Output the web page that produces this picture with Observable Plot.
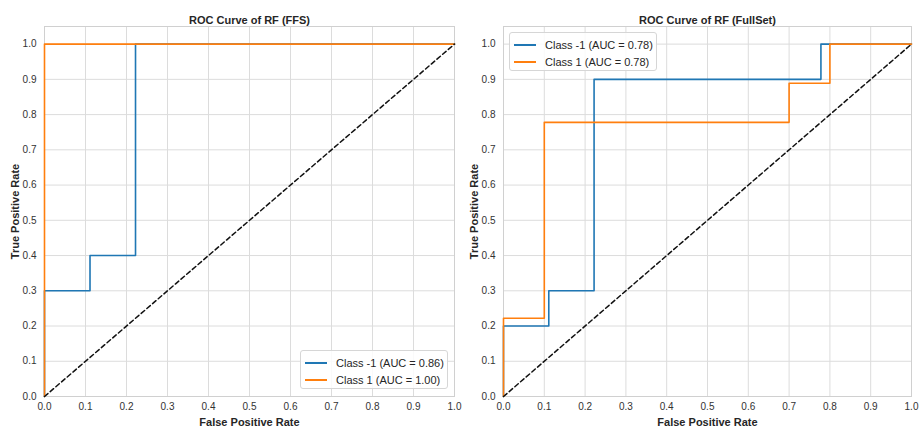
<!DOCTYPE html>
<html>
<head>
<meta charset="utf-8">
<script src="https://cdn.jsdelivr.net/npm/d3@7"></script>
<script src="https://cdn.jsdelivr.net/npm/@observablehq/plot@0.6"></script>
<style>
  html, body { margin: 0; padding: 0; background: #fff; }
  #wrap { display: flex; width: 919px; height: 426px; position: relative; }
  .panel { position: relative; }
  .legend { position: absolute; background: rgba(255,255,255,0.85); border: 1px solid #d6d6d6; border-radius: 3px;
    font-family: "Liberation Sans", Arial, sans-serif; font-size: 11px; color: #262626; padding: 3px 2px 3px 4px;
    box-sizing: border-box; white-space: nowrap; }
  .legend .row { display: flex; align-items: center; height: 17px; }
  .legend .sw { width: 22px; height: 0; border-top: 2px solid; margin-right: 9px; flex: none; }
</style>
</head>
<body>
<div id="wrap"></div>
<script>
// ---- data ----
const ticks = [0.0, 0.1, 0.2, 0.3, 0.4, 0.5, 0.6, 0.7, 0.8, 0.9, 1.0];
const seriesNames = ["Class -1", "Class 1"];
const colors = ["#1f77b4", "#ff7f0e"];

// FFS panel
const ffsTitle = "ROC Curve of RF (FFS)";
const ffsAUC = [0.86, 1.00];
const ffsNegFpr = [0, 0, 0.111, 0.111, 0.222, 0.222, 1];
const ffsNegTpr = [0, 0.3, 0.3, 0.4, 0.4, 1.0, 1.0];
const ffsPosFpr = [0, 0, 1];
const ffsPosTpr = [0, 1.0, 1.0];

// FullSet panel
const fullTitle = "ROC Curve of RF (FullSet)";
const fullAUC = [0.78, 0.78];
const fullNegFpr = [0, 0, 0.111, 0.111, 0.222, 0.222, 0.778, 0.778, 1];
const fullNegTpr = [0, 0.2, 0.2, 0.3, 0.3, 0.9, 0.9, 1.0, 1.0];
const fullPosFpr = [0, 0, 0.1, 0.1, 0.7, 0.7, 0.8, 0.8, 1];
const fullPosTpr = [0, 0.222, 0.222, 0.778, 0.778, 0.889, 0.889, 1.0, 1.0];

const diagX = [0, 1];
const diagY = [0, 1];

function toRows(fpr, tpr, series) {
  return fpr.map((f, i) => ({ fpr: f, tpr: tpr[i], series }));
}

const font = "Liberation Sans, Arial, sans-serif";

function makePanel(title, negF, negT, posF, posT, auc, width, mLeft, mRight, legendPos, z) {
  const neg = toRows(negF, negT, seriesNames[0]);
  const pos = toRows(posF, posT, seriesNames[1]);
  const diag = diagX.map((x, i) => ({ x, y: diagY[i] }));
  const chart = Plot.plot({
    width, height: 426,
    marginLeft: mLeft, marginRight: mRight, marginTop: 26, marginBottom: 30,
    style: { fontFamily: font, fontSize: "10px", color: "#333", background: "transparent", overflow: "visible" },
    x: { domain: [0, 1] },
    y: { domain: [0, 1.05] },
    color: { domain: seriesNames, range: colors },
    marks: [
      Plot.gridX(ticks, { stroke: "#dcdcdc", strokeOpacity: 1, strokeWidth: 1 }),
      Plot.gridY(ticks, { stroke: "#dcdcdc", strokeOpacity: 1, strokeWidth: 1 }),
      Plot.frame({ stroke: "#d0d0d0", strokeWidth: 1 }),
      Plot.line(neg, { x: "fpr", y: "tpr", stroke: colors[0], strokeWidth: 1.6 }),
      Plot.line(pos, { x: "fpr", y: "tpr", stroke: colors[1], strokeWidth: 1.6 }),
      Plot.line(diag, { x: "x", y: "y", stroke: "#111", strokeWidth: 1.5, strokeDasharray: "4.5,3" }),
      Plot.axisX(ticks, { tickSize: 0, tickPadding: 6, tickFormat: ".1f", fill: "#333", fontSize: 10,
        label: "False Positive Rate", labelAnchor: "center", labelArrow: "none", labelOffset: 29 }),
      Plot.axisY(ticks, { tickSize: 0, tickPadding: 8, tickFormat: ".1f", fill: "#333", fontSize: 10,
        label: "True Positive Rate", labelAnchor: "center", labelArrow: "none", labelOffset: 33 }),
      Plot.text([title], { frameAnchor: "top", dy: -10, text: d => d, fontWeight: "bold", fontSize: 11, fill: "#262626" })
    ]
  });
  d3.select(chart).selectAll("g[aria-label='x-axis label'] text, g[aria-label='y-axis label'] text")
    .attr("font-weight", "bold").attr("font-size", 11).attr("fill", "#262626");
  const panel = document.createElement("div");
  panel.className = "panel";
  panel.style.width = width + "px";
  panel.style.zIndex = z;
  panel.appendChild(chart);
  const lg = document.createElement("div");
  lg.className = "legend";
  Object.assign(lg.style, legendPos);
  seriesNames.forEach((s, i) => {
    const r = document.createElement("div");
    r.className = "row";
    const sw = document.createElement("span");
    sw.className = "sw";
    sw.style.borderTopColor = colors[i];
    const t = document.createElement("span");
    t.textContent = `${s} (AUC = ${auc[i].toFixed(2)})`;
    r.appendChild(sw); r.appendChild(t);
    lg.appendChild(r);
  });
  panel.appendChild(lg);
  return panel;
}

const wrap = document.getElementById("wrap");
wrap.appendChild(makePanel(ffsTitle, ffsNegFpr, ffsNegTpr, ffsPosFpr, ffsPosTpr, ffsAUC, 459, 44, 5,
  { left: "300px", top: "350px", width: "148px", height: "39px" }, 2));
wrap.appendChild(makePanel(fullTitle, fullNegFpr, fullNegTpr, fullPosFpr, fullPosTpr, fullAUC, 460, 44, 8,
  { left: "50px", top: "32px", width: "148px", height: "39px" }, 1));
</script>
</body>
</html>
